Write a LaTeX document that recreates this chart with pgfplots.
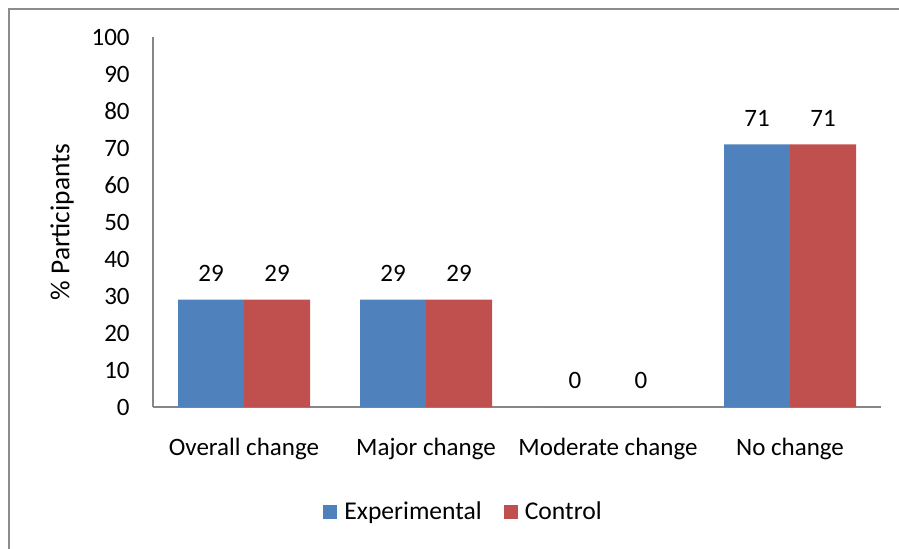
\documentclass[border=0pt]{standalone}
\usepackage{pgfplots}
\pgfplotsset{compat=1.18}
\usepackage{fontspec}
\setmainfont{Carlito}
\definecolor{cblue}{HTML}{4F81BD}
\definecolor{cred}{HTML}{C0504D}
\definecolor{axgray}{HTML}{868686}
\definecolor{bordergray}{HTML}{8C8C8C}
\begin{document}
\fontsize{12.5}{15}\selectfont
\begin{tikzpicture}
\useasboundingbox (0,0) rectangle (449.5pt,274pt);
\begin{scope}
\clip (0,0) rectangle (449.5pt,274pt);
\draw[color=bordergray, line width=1.2pt] (4.5pt,-20pt) rectangle (480pt,269.5pt);
\end{scope}
\begin{axis}[
  at={(76.5pt,70.5pt)}, anchor=south west,
  scale only axis, width=364pt, height=185pt,
  ybar=0pt, bar width=33pt,
  enlargelimits=false,
  xmin=-0.5, xmax=3.5, ymin=0, ymax=100,
  xtick={0,1,2,3},
  xticklabels={Overall change, Major change, Moderate change, No change},
  ytick={0,10,...,100},
  axis x line*=bottom, axis y line*=left,
  axis line style={axgray, line width=1pt},
  major tick length=0pt,
  tick style={draw=none},
  /pgf/number format/assume math mode=true,
  yticklabel style={anchor=east, inner sep=0pt, xshift=-11.5pt},
  xticklabel style={anchor=base, inner sep=0pt, yshift=-24pt},
  ylabel={\% Participants},
  ylabel style={at={([xshift=-45.5pt]axis description cs:0,0.5)}, anchor=center, font=\fontsize{13.7}{16}\selectfont},
  nodes near coords,
  every node near coord/.append style={inner sep=0pt, yshift=8.75pt, text=black},
  legend columns=2,
  legend style={at={([yshift=-52.5pt]axis description cs:0.428,0)}, anchor=center, draw=none, fill=none,
    font=\fontsize{12.8}{15}\selectfont,
    /tikz/every odd column/.append style={column sep=1.5pt},
    /tikz/every even column/.append style={column sep=9pt}},
  legend image code/.code={\fill[#1,draw=none] (0pt,-3.5pt) rectangle (7pt,3.5pt);},
]
\addplot[fill=cblue, draw=none] coordinates {(0,29) (1,29) (2,0) (3,71)};
\addplot[fill=cred, draw=none] coordinates {(0,29) (1,29) (2,0) (3,71)};
\legend{Experimental, Control}
\end{axis}
\end{tikzpicture}
\end{document}
